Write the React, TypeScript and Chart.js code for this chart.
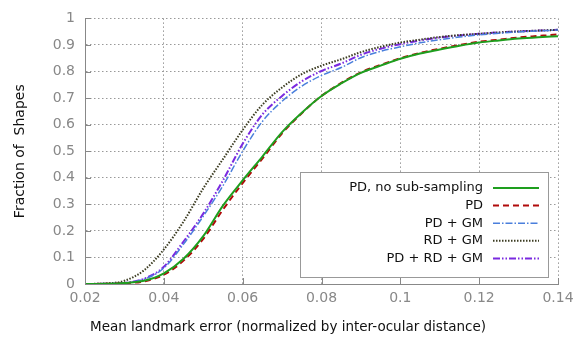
import React, { useEffect, useRef } from "react";
import { Chart, registerables } from "chart.js";

Chart.register(...registerables);

const xValues = [0.02, 0.025, 0.03, 0.035, 0.04, 0.045, 0.05, 0.055, 0.06, 0.065, 0.07, 0.075, 0.08, 0.085, 0.09, 0.095, 0.1, 0.105, 0.11, 0.115, 0.12, 0.125, 0.13, 0.135, 0.14];
const pdNoSub = [0, 0.001, 0.004, 0.012, 0.04, 0.095, 0.18, 0.295, 0.39, 0.48, 0.572, 0.645, 0.708, 0.755, 0.795, 0.822, 0.848, 0.868, 0.883, 0.897, 0.909, 0.917, 0.924, 0.929, 0.933];
const pd = [0, 0.001, 0.003, 0.01, 0.035, 0.088, 0.17, 0.28, 0.38, 0.472, 0.567, 0.643, 0.708, 0.757, 0.797, 0.825, 0.85, 0.87, 0.886, 0.9, 0.912, 0.92, 0.928, 0.934, 0.94];
const pdGm = [0, 0.001, 0.004, 0.018, 0.06, 0.15, 0.255, 0.37, 0.5, 0.612, 0.688, 0.745, 0.785, 0.815, 0.852, 0.876, 0.893, 0.908, 0.92, 0.93, 0.938, 0.944, 0.949, 0.953, 0.956];
const rdGm = [0, 0.002, 0.012, 0.052, 0.13, 0.235, 0.36, 0.47, 0.58, 0.675, 0.74, 0.79, 0.822, 0.846, 0.873, 0.893, 0.909, 0.92, 0.93, 0.937, 0.942, 0.947, 0.951, 0.954, 0.957];
const pdRdGm = [0, 0.001, 0.004, 0.02, 0.065, 0.16, 0.265, 0.39, 0.528, 0.638, 0.708, 0.763, 0.802, 0.83, 0.863, 0.886, 0.903, 0.917, 0.928, 0.936, 0.942, 0.947, 0.951, 0.954, 0.957];

const seriesLabels = ["PD, no sub-sampling", "PD", "PD + GM", "RD + GM", "PD + RD + GM"];
const xTicks = [0.02, 0.04, 0.06, 0.08, 0.1, 0.12, 0.14];
const yTicks = [0, 0.1, 0.2, 0.3, 0.4, 0.5, 0.6, 0.7, 0.8, 0.9, 1];
const xTitle = "Mean landmark error (normalized by inter-ocular distance)";
const yTitle = "Fraction of  Shapes";

const FONT = "'DejaVu Sans', sans-serif";

const styles = [
  { color: "#1e9e1e", dash: [] as number[], width: 2 },
  { color: "#b00a0a", dash: [6, 4], width: 2 },
  { color: "#4a7fdc", dash: [7, 2, 1.5, 2], width: 1.5 },
  { color: "#3c3c22", dash: [1.5, 1.5], width: 2 },
  { color: "#7a2ae0", dash: [7, 2, 1.5, 2, 1.5, 2], width: 2 },
];

const legendPlugin = {
  id: "gnuLegend",
  afterDatasetsDraw(chart: any) {
    const ctx = chart.ctx;
    const x0 = 300, y0 = 172, x1 = 548, y1 = 277;
    ctx.save();
    ctx.fillStyle = "#fff";
    ctx.fillRect(x0, y0, x1 - x0, y1 - y0);
    ctx.strokeStyle = "#999";
    ctx.lineWidth = 1;
    ctx.setLineDash([]);
    ctx.strokeRect(x0 + 0.5, y0 + 0.5, x1 - x0, y1 - y0);
    ctx.font = "13px " + FONT;
    ctx.textAlign = "right";
    ctx.textBaseline = "middle";
    chart.data.datasets.forEach((ds: any, i: number) => {
      const y = 188 + i * 17.6;
      ctx.fillStyle = "#111";
      ctx.fillText(ds.label, 483, y);
      ctx.strokeStyle = ds.borderColor;
      ctx.lineWidth = ds.borderWidth;
      ctx.setLineDash(ds.borderDash || []);
      ctx.beginPath();
      ctx.moveTo(493, y);
      ctx.lineTo(539, y);
      ctx.stroke();
    });
    // x-axis title
    ctx.font = "13.5px " + FONT;
    ctx.textAlign = "center";
    ctx.fillStyle = "#111";
    ctx.fillText(xTitle, 288, 327);
    ctx.restore();
  },
};

const ticksPlugin = {
  id: "innerTicks",
  afterDraw(chart: any) {
    const ctx = chart.ctx;
    const { left, bottom } = chart.chartArea;
    const xs = chart.scales.x;
    const ys = chart.scales.y;
    ctx.save();
    ctx.strokeStyle = "#888";
    ctx.lineWidth = 1;
    ctx.setLineDash([]);
    ctx.beginPath();
    xTicks.forEach((v) => {
      const px = Math.round(xs.getPixelForValue(v)) + 0.5;
      ctx.moveTo(px, bottom);
      ctx.lineTo(px, bottom - 6);
    });
    yTicks.forEach((v) => {
      const py = Math.round(ys.getPixelForValue(v)) + 0.5;
      ctx.moveTo(left, py);
      ctx.lineTo(left + 6, py);
    });
    ctx.stroke();
    ctx.restore();
  },
};

export default function App() {
  const ref = useRef<HTMLCanvasElement | null>(null);
  useEffect(() => {
    if (!ref.current) return;
    const all = [pdNoSub, pd, pdGm, rdGm, pdRdGm];
    const chart = new Chart(ref.current, {
      type: "line",
      data: {
        datasets: all.map((vals, i) => ({
          label: seriesLabels[i],
          data: xValues.map((x, j) => ({ x, y: vals[j] })),
          borderColor: styles[i].color,
          borderDash: styles[i].dash,
          borderWidth: styles[i].width,
          pointRadius: 0,
          fill: false,
          cubicInterpolationMode: "monotone" as const,
        })),
      },
      options: {
        animation: false,
        responsive: false,
        maintainAspectRatio: false,
        layout: { padding: { top: 10, right: 25, left: 0, bottom: 0 } },
        plugins: { legend: { display: false }, tooltip: { enabled: false } },
        scales: {
          x: {
            type: "linear",
            min: 0.02,
            max: 0.14,
            afterBuildTicks: (s: any) => { s.ticks = xTicks.map((v) => ({ value: v })); },
            afterFit: (s: any) => { s.height = 57; },
            ticks: {
              color: "#888",
              font: { family: FONT, size: 14 },
              padding: 6,
              callback: (v: any) => String(+Number(v).toFixed(2)),
              maxRotation: 0,
            },
            grid: { color: "#999", lineWidth: 1, drawTicks: false, tickLength: 0 },
            border: { display: true, color: "#888", width: 1, dash: [1.5, 2.5] },
            title: { display: false },
          },
          y: {
            type: "linear",
            min: 0,
            max: 1,
            afterBuildTicks: (s: any) => { s.ticks = yTicks.map((v) => ({ value: v })); },
            afterFit: (s: any) => { s.width = 85; },
            ticks: {
              color: "#888",
              font: { family: FONT, size: 14 },
              padding: 10,
              callback: (v: any) => String(+Number(v).toFixed(1)),
            },
            grid: { color: "#999", lineWidth: 1, drawTicks: false, tickLength: 0 },
            border: { display: true, color: "#888", width: 1, dash: [1.5, 2.5] },
            title: {
              display: true,
              text: yTitle,
              color: "#111",
              font: { family: FONT, size: 14 },
              padding: { top: 12, bottom: 0 },
            },
          },
        },
      },
      plugins: [legendPlugin, ticksPlugin],
    } as any);
    return () => chart.destroy();
  }, []);
  return (
    <div style={{ position: "absolute", left: 0, top: 0, width: 583, height: 341, background: "#fff" }}>
      <canvas ref={ref} width={583} height={341} style={{ width: 583, height: 341 }} />
    </div>
  );
}
